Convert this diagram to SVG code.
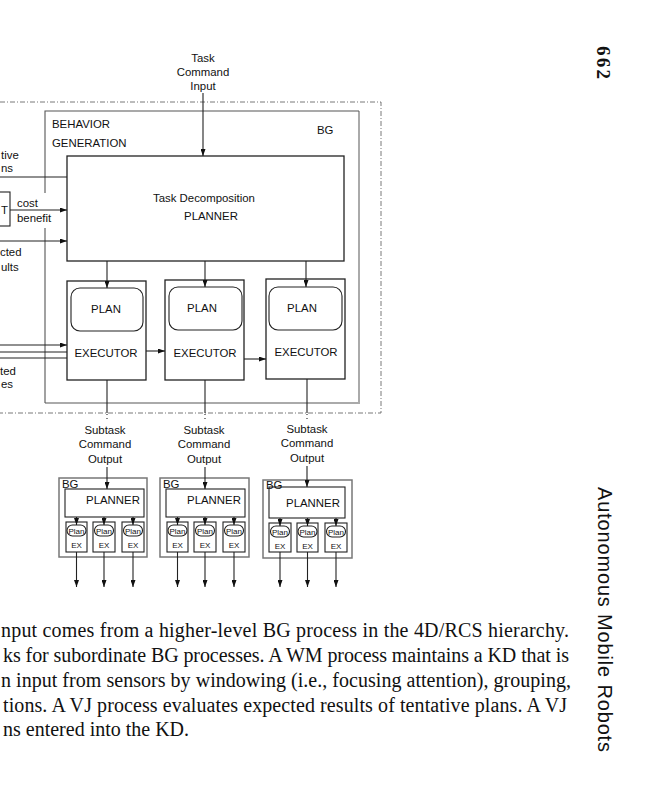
<svg xmlns="http://www.w3.org/2000/svg" width="664" height="800" viewBox="0 0 664 800">
<defs>
<marker id="ah" markerWidth="7" markerHeight="5" refX="7" refY="2.5" orient="auto" markerUnits="userSpaceOnUse"><path d="M0,0 L7,2.5 L0,5 z" fill="#111"/></marker>
<style>
.t{font-family:"Liberation Sans",Arial,sans-serif;font-size:11.4px;fill:#111}
.s{font-family:"Liberation Sans",Arial,sans-serif;font-size:8px;fill:#111}
.m{text-anchor:middle}
.b{fill:#fff;stroke:#222;stroke-width:1.3}
.p{fill:#fff;stroke:#222;stroke-width:1.1}
.sb{fill:#fff;stroke:#777;stroke-width:1.5}
.l{stroke:#222;stroke-width:1.1;fill:none}
.a{stroke:#222;stroke-width:1.1;fill:none;marker-end:url(#ah)}
.d{stroke:#555;stroke-width:0.8;fill:none;stroke-dasharray:5,2,1,2}
.body{font-family:"Liberation Serif","Times New Roman",serif;font-size:20px;fill:#111}
</style>
</defs>
<rect width="664" height="800" fill="#fff"/>

<g id="frame">
<path class="d" d="M0,102 H381 V413 H0"/>
</g>

<g id="bg">
<path d="M359,111 V403 H45" stroke="#aaa" stroke-width="2" fill="none"/>
<path d="M359,111 H45 V193 M45,228 V403" stroke="#555" stroke-width="1.1" fill="none"/>
<text class="t" x="52" y="128">BEHAVIOR</text>
<text class="t" x="52" y="147">GENERATION</text>
<text class="t" x="317" y="134">BG</text>
</g>

<g id="task-input">
<text class="t m" x="203" y="62">Task</text>
<text class="t m" x="203" y="76">Command</text>
<text class="t m" x="203" y="90">Input</text>
</g>

<g id="planner">
<rect class="b" x="67" y="156" width="277" height="105"/>
<text class="t m" x="204" y="202">Task Decomposition</text>
<text class="t m" x="211" y="220">PLANNER</text>
</g>

<g id="exec1">
<rect class="b" x="67" y="281" width="79" height="99"/>
<rect class="p" x="71" y="288" width="72" height="43" rx="9"/>
<text class="t m" x="106" y="313">PLAN</text>
<text class="t m" x="106" y="357">EXECUTOR</text>
</g>
<g id="exec2">
<rect class="b" x="165" y="280" width="79" height="100"/>
<rect class="p" x="169" y="287" width="73" height="43" rx="9"/>
<text class="t m" x="202" y="312">PLAN</text>
<text class="t m" x="205" y="357">EXECUTOR</text>
</g>
<g id="exec3">
<rect class="b" x="266" y="279" width="79" height="100"/>
<rect class="p" x="269" y="287" width="73" height="43" rx="9"/>
<text class="t m" x="302" y="312">PLAN</text>
<text class="t m" x="306" y="356">EXECUTOR</text>
</g>

<g id="vj">
<rect class="p" x="-5" y="192" width="15" height="34"/>
<text class="t" x="1" y="214">T</text>
<text class="t" x="17" y="207">cost</text>
<text class="t" x="17" y="222">benefit</text>
</g>

<g id="left-labels">
<text class="t" x="1" y="159">tive</text>
<text class="t" x="1" y="172">ns</text>
<text class="t" x="0" y="256">cted</text>
<text class="t" x="1" y="271">ults</text>
<text class="t" x="0" y="375">ted</text>
<text class="t" x="1" y="388">es</text>
</g>

<g id="subtask-labels">
<text class="t m" x="105" y="434">Subtask</text>
<text class="t m" x="105" y="448">Command</text>
<text class="t m" x="105" y="463">Output</text>
<text class="t m" x="204" y="434">Subtask</text>
<text class="t m" x="204" y="448">Command</text>
<text class="t m" x="204" y="463">Output</text>
<text class="t m" x="307" y="433">Subtask</text>
<text class="t m" x="307" y="447">Command</text>
<text class="t m" x="307" y="462">Output</text>
</g>

<g id="sub-bg1">
<rect class="sb" x="59" y="478" width="88" height="79"/>
<rect class="p" x="65" y="489" width="79" height="28"/>
<text class="t" x="62" y="488">BG</text>
<text class="t m" x="113" y="504">PLANNER</text>
<rect class="p" x="66" y="522" width="21" height="30"/>
<rect class="p" x="93" y="522" width="22" height="30"/>
<rect class="p" x="122" y="522" width="22" height="30"/>
<rect class="p" x="67" y="525" width="19" height="11" rx="5.5"/>
<rect class="p" x="94.5" y="525" width="19" height="11" rx="5.5"/>
<rect class="p" x="123.5" y="525" width="19" height="11" rx="5.5"/>
<text class="s m" x="76.5" y="533.5">Plan</text>
<text class="s m" x="104" y="533.5">Plan</text>
<text class="s m" x="133" y="533.5">Plan</text>
<text class="s m" x="76.5" y="548">EX</text>
<text class="s m" x="104" y="548">EX</text>
<text class="s m" x="133" y="548">EX</text>
</g>

<g id="sub-bg2">
<rect class="sb" x="160" y="478" width="89" height="79"/>
<rect class="p" x="166" y="489" width="79" height="28"/>
<text class="t" x="163" y="488">BG</text>
<text class="t m" x="214" y="504">PLANNER</text>
<rect class="p" x="167" y="522" width="21" height="30"/>
<rect class="p" x="194" y="522" width="22" height="30"/>
<rect class="p" x="223" y="522" width="22" height="30"/>
<rect class="p" x="168" y="525" width="19" height="11" rx="5.5"/>
<rect class="p" x="195.5" y="525" width="19" height="11" rx="5.5"/>
<rect class="p" x="224.5" y="525" width="19" height="11" rx="5.5"/>
<text class="s m" x="177.5" y="533.5">Plan</text>
<text class="s m" x="205" y="533.5">Plan</text>
<text class="s m" x="234" y="533.5">Plan</text>
<text class="s m" x="177.5" y="548">EX</text>
<text class="s m" x="205" y="548">EX</text>
<text class="s m" x="234" y="548">EX</text>
</g>

<g id="sub-bg3">
<rect class="sb" x="263" y="480" width="89" height="78"/>
<rect class="p" x="269" y="487" width="76" height="31"/>
<text class="t" x="266" y="489">BG</text>
<text class="t m" x="313" y="507">PLANNER</text>
<rect class="p" x="269" y="523" width="22" height="29"/>
<rect class="p" x="297" y="523" width="21" height="29"/>
<rect class="p" x="325" y="523" width="22" height="29"/>
<rect class="p" x="270.5" y="526" width="19" height="11" rx="5.5"/>
<rect class="p" x="298" y="526" width="19" height="11" rx="5.5"/>
<rect class="p" x="326.5" y="526" width="19" height="11" rx="5.5"/>
<text class="s m" x="280" y="534.5">Plan</text>
<text class="s m" x="307.5" y="534.5">Plan</text>
<text class="s m" x="336" y="534.5">Plan</text>
<text class="s m" x="280" y="548.5">EX</text>
<text class="s m" x="307.5" y="548.5">EX</text>
<text class="s m" x="336" y="548.5">EX</text>
</g>

<g id="connectors">
<line class="a" x1="203" y1="93" x2="203" y2="156"/>
<line class="l" x1="0" y1="177" x2="67" y2="177"/>
<line class="a" x1="10" y1="210" x2="67" y2="210"/>
<line class="a" x1="0" y1="241" x2="67" y2="241"/>
<line class="a" x1="0" y1="345" x2="67" y2="345"/>
<line class="l" x1="0" y1="352" x2="67" y2="352"/>
<line class="l" x1="0" y1="358" x2="67" y2="358"/>
<line class="a" x1="107" y1="261" x2="107" y2="288"/>
<line class="a" x1="205" y1="261" x2="205" y2="287"/>
<line class="a" x1="306" y1="261" x2="306" y2="287"/>
<line class="a" x1="146" y1="351" x2="165" y2="351"/>
<line class="a" x1="244" y1="359" x2="266" y2="359"/>
<line class="l" x1="107" y1="380" x2="107" y2="413"/>
<line class="l" x1="205" y1="380" x2="205" y2="413"/>
<line class="l" x1="307" y1="379" x2="307" y2="413"/>
<path class="l" stroke-dasharray="1,3" d="M107,414 V421 M205,414 V421 M307,414 V421"/>
<line class="a" x1="107" y1="467" x2="107" y2="489"/>
<line class="a" x1="205" y1="467" x2="205" y2="489"/>
<line class="a" x1="307" y1="466" x2="307" y2="487"/>
<line class="a" x1="76.5" y1="517" x2="76.5" y2="525"/>
<line class="a" x1="104" y1="517" x2="104" y2="525"/>
<line class="a" x1="133" y1="517" x2="133" y2="525"/>
<line class="a" x1="177.5" y1="517" x2="177.5" y2="525"/>
<line class="a" x1="205" y1="517" x2="205" y2="525"/>
<line class="a" x1="234" y1="517" x2="234" y2="525"/>
<line class="a" x1="280" y1="518" x2="280" y2="526"/>
<line class="a" x1="307.5" y1="518" x2="307.5" y2="526"/>
<line class="a" x1="336" y1="518" x2="336" y2="526"/>
<line class="a" x1="76.5" y1="552" x2="76.5" y2="587"/>
<line class="a" x1="104" y1="552" x2="104" y2="587"/>
<line class="a" x1="133" y1="552" x2="133" y2="587"/>
<line class="a" x1="177.5" y1="552" x2="177.5" y2="587"/>
<line class="a" x1="205" y1="552" x2="205" y2="587"/>
<line class="a" x1="234" y1="552" x2="234" y2="587"/>
<line class="a" x1="280" y1="552" x2="280" y2="587"/>
<line class="a" x1="307.5" y1="552" x2="307.5" y2="587"/>
<line class="a" x1="336" y1="552" x2="336" y2="587"/>
</g>

<g id="body-text">
<text class="body" x="1" y="637" textLength="568" lengthAdjust="spacing">nput comes from a higher-level BG process in the 4D/RCS hierarchy.</text>
<text class="body" x="3" y="662" textLength="566" lengthAdjust="spacing">ks for subordinate BG processes. A WM process maintains a KD that is</text>
<text class="body" x="1" y="687" textLength="570" lengthAdjust="spacing">n input from sensors by windowing (i.e., focusing attention), grouping,</text>
<text class="body" x="3" y="712" textLength="564" lengthAdjust="spacing">tions. A VJ process evaluates expected results of tentative plans. A VJ</text>
<text class="body" x="3" y="736">ns entered into the KD.</text>
</g>

<g id="running-head">
<text transform="translate(597,46) rotate(90)" font-family="Liberation Serif, serif" font-weight="bold" font-size="19" fill="#111" textLength="33" lengthAdjust="spacing">662</text>
<text transform="translate(598,487) rotate(90)" font-family="Liberation Sans, Arial, sans-serif" font-size="20" fill="#111" textLength="265" lengthAdjust="spacing">Autonomous Mobile Robots</text>
</g>
</svg>
